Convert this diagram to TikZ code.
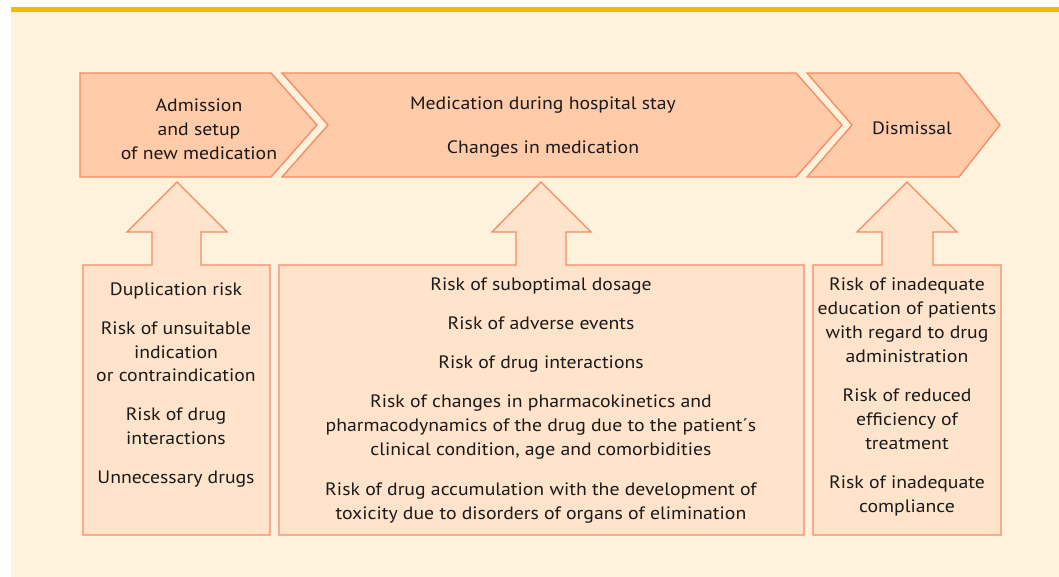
\documentclass[tikz,border=0pt]{standalone}
\usepackage{fontspec}
\setmainfont{PT Sans}[FakeStretch=1.1]
\definecolor{bgcream}{HTML}{FEF2DD}
\definecolor{topbar}{HTML}{F0BC00}
\definecolor{chevfill}{HTML}{FFCBA9}
\definecolor{boxfill}{HTML}{FFE3CA}
\definecolor{edgecol}{HTML}{F58A61}
\definecolor{txt}{HTML}{1A1A1A}
\tikzset{
  chev/.style={fill=chevfill, draw=edgecol, line width=1.3bp, line join=miter},
  riskbox/.style={fill=boxfill, draw=edgecol, line width=1.3bp, line join=miter},
  lbl/.style={text=txt, align=center, inner sep=0pt, font=\fontsize{18}{24}\selectfont},
}
\begin{document}
\begin{tikzpicture}[x=1bp,y=-1bp]
\useasboundingbox (0,0) rectangle (1059,577);
\fill[white] (0,0) rectangle (1059,577);
\fill[bgcream] (11,12) rectangle (1059,577);
\fill[topbar] (11,7) rectangle (1059,12);
% chevrons
\draw[chev] (80,73) -- (271,73) -- (317,125) -- (271,177) -- (80,177) -- cycle;
\draw[chev] (282,73) -- (796,73) -- (842,125) -- (796,177) -- (282,177) -- (328,125) -- cycle;
\draw[chev] (807,73) -- (959,73) -- (1000,125) -- (959,177) -- (807,177) -- (852,125) -- cycle;
% arrows merged with boxes
\draw[riskbox] (83,265) -- (152,265) -- (152,232) -- (127,232) -- (177,182) -- (227,232) -- (201,232) -- (201,265) -- (270,265) -- (270,535) -- (83,535) -- cycle;
\draw[riskbox] (279,265) -- (516,265) -- (516,232) -- (492,232) -- (541,182) -- (591,232) -- (566,232) -- (566,265) -- (804,265) -- (804,535) -- (279,535) -- cycle;
\draw[riskbox] (813,265) -- (882,265) -- (882,232) -- (857,232) -- (907,182) -- (957,232) -- (933,232) -- (933,265) -- (1001,265) -- (1001,535) -- (813,535) -- cycle;
% chevron labels
\node[lbl] (adm) at (199,129.5) {Admission\\and setup\\of new medication};
\node[lbl] (stay) at (543,105) {Medication during hospital stay};
\node[lbl] (chg) at (543,149) {Changes in medication};
\node[lbl] (dis) at (912,128) {Dismissal};
% risk texts
\node[lbl] (r1) at (176,385) {Duplication risk\\[15bp]Risk of unsuitable\\indication\\or contraindication\\[15bp]Risk of drug\\interactions\\[15bp]Unnecessary drugs};
\node[lbl] (r2) at (541,400.5) {Risk of suboptimal dosage\\[15bp]Risk of adverse events\\[15bp]Risk of drug interactions\\[15bp]Risk of changes in pharmacokinetics and\\pharmacodynamics of the drug due to the patient´s\\clinical condition, age and comorbidities\\[16bp]Risk of drug accumulation with the development of\\toxicity due to disorders of organs of elimination};
\node[lbl] (r3) at (907,397) {Risk of inadequate\\education of patients\\with regard to drug\\administration\\[15bp]Risk of reduced\\efficiency of\\treatment\\[15bp]Risk of inadequate\\compliance};
\end{tikzpicture}
\end{document}
